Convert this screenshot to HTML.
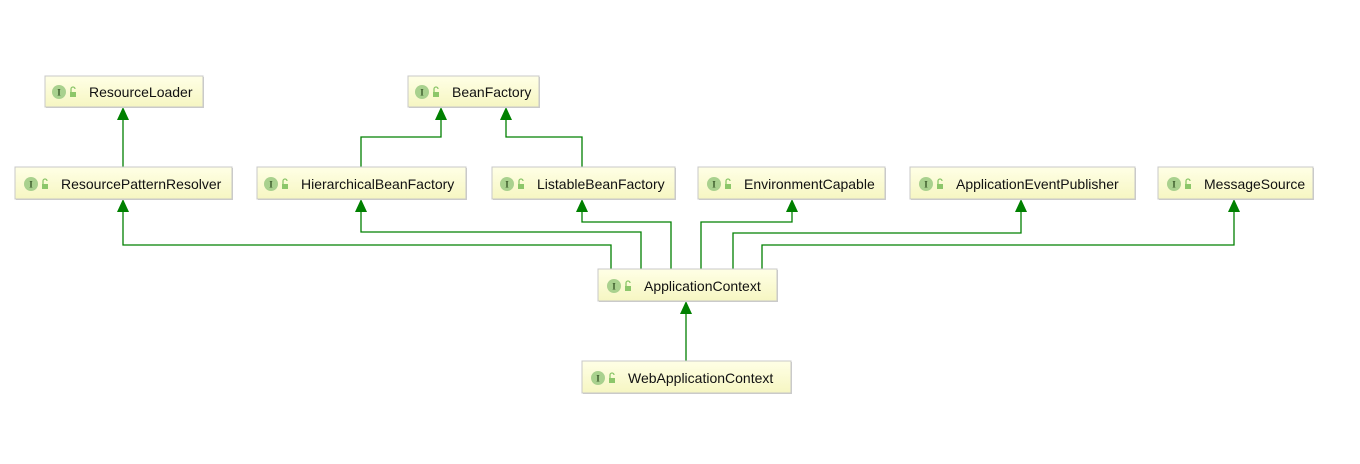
<!DOCTYPE html>
<html><head><meta charset="utf-8"><style>
html,body{margin:0;padding:0;background:#fff;width:1360px;height:464px;overflow:hidden}
</style></head><body>
<svg width="1360" height="464" xmlns="http://www.w3.org/2000/svg" font-family="Liberation Sans, sans-serif">
<defs>
<linearGradient id="g" x1="0" y1="0" x2="0" y2="1"><stop offset="0" stop-color="#ffffe6"/><stop offset="1" stop-color="#f6f6c2"/></linearGradient>
<g id="ic"><circle cx="0" cy="0" r="7" fill="#a9d18e"/><text x="0" y="3.5" font-size="9" font-weight="bold" text-anchor="middle" fill="#3b5a2a" font-family="Liberation Serif, serif">I</text>
<rect x="11" y="0" width="6" height="5" fill="#8cc66a"/><path d="M12 0 v-3 a2 2 0 0 1 4 0" fill="none" stroke="#8cc66a" stroke-width="1.3"/></g>
</defs>
<g stroke="#008000" stroke-width="1.3" fill="none">
<polyline points="123,167 123,118"/>
<polyline points="361,167 361,137 441,137 441,118"/>
<polyline points="582,167 582,137 506,137 506,118"/>
<polyline points="611,269 611,245 123,245 123,210"/>
<polyline points="641,269 641,232 361,232 361,210"/>
<polyline points="671,269 671,222 582,222 582,210"/>
<polyline points="701,269 701,222 792,222 792,210"/>
<polyline points="733,269 733,233 1021,233 1021,210"/>
<polyline points="762,269 762,245 1234,245 1234,210"/>
<polyline points="686,361 686,312"/>
</g>
<g fill="#008000">
<path d="M117,120 L129,120 L123,107 Z"/>
<path d="M435,120 L447,120 L441,107 Z"/>
<path d="M500,120 L512,120 L506,107 Z"/>
<path d="M117,212 L129,212 L123,199 Z"/>
<path d="M355,212 L367,212 L361,199 Z"/>
<path d="M576,212 L588,212 L582,199 Z"/>
<path d="M786,212 L798,212 L792,199 Z"/>
<path d="M1015,212 L1027,212 L1021,199 Z"/>
<path d="M1228,212 L1240,212 L1234,199 Z"/>
<path d="M680,314 L692,314 L686,301 Z"/>
</g>
<g font-size="14" fill="#111">
<g transform="translate(45,76)"><rect x="1" y="1" width="158" height="31" fill="#ccc"/><rect width="158" height="31" fill="url(#g)" stroke="#c8c8c8"/><use href="#ic" x="14" y="16"/><text x="44" y="21">ResourceLoader</text></g>
<g transform="translate(408,76)"><rect x="1" y="1" width="131" height="31" fill="#ccc"/><rect width="131" height="31" fill="url(#g)" stroke="#c8c8c8"/><use href="#ic" x="14" y="16"/><text x="44" y="21">BeanFactory</text></g>
<g transform="translate(15,167)"><rect x="1" y="1" width="217" height="32" fill="#ccc"/><rect width="217" height="32" fill="url(#g)" stroke="#c8c8c8"/><use href="#ic" x="16" y="17"/><text x="46" y="22">ResourcePatternResolver</text></g>
<g transform="translate(257,167)"><rect x="1" y="1" width="209" height="32" fill="#ccc"/><rect width="209" height="32" fill="url(#g)" stroke="#c8c8c8"/><use href="#ic" x="14" y="17"/><text x="44" y="22">HierarchicalBeanFactory</text></g>
<g transform="translate(492,167)"><rect x="1" y="1" width="183" height="32" fill="#ccc"/><rect width="183" height="32" fill="url(#g)" stroke="#c8c8c8"/><use href="#ic" x="15" y="17"/><text x="45" y="22">ListableBeanFactory</text></g>
<g transform="translate(698,167)"><rect x="1" y="1" width="187" height="32" fill="#ccc"/><rect width="187" height="32" fill="url(#g)" stroke="#c8c8c8"/><use href="#ic" x="16" y="17"/><text x="46" y="22">EnvironmentCapable</text></g>
<g transform="translate(910,167)"><rect x="1" y="1" width="225" height="32" fill="#ccc"/><rect width="225" height="32" fill="url(#g)" stroke="#c8c8c8"/><use href="#ic" x="16" y="17"/><text x="46" y="22">ApplicationEventPublisher</text></g>
<g transform="translate(1158,167)"><rect x="1" y="1" width="155" height="32" fill="#ccc"/><rect width="155" height="32" fill="url(#g)" stroke="#c8c8c8"/><use href="#ic" x="16" y="17"/><text x="46" y="22">MessageSource</text></g>
<g transform="translate(598,269)"><rect x="1" y="1" width="179" height="32" fill="#ccc"/><rect width="179" height="32" fill="url(#g)" stroke="#c8c8c8"/><use href="#ic" x="16" y="17"/><text x="46" y="22">ApplicationContext</text></g>
<g transform="translate(582,361)"><rect x="1" y="1" width="209" height="32" fill="#ccc"/><rect width="209" height="32" fill="url(#g)" stroke="#c8c8c8"/><use href="#ic" x="16" y="17"/><text x="46" y="22">WebApplicationContext</text></g>
</g>
</svg>
</body></html>
